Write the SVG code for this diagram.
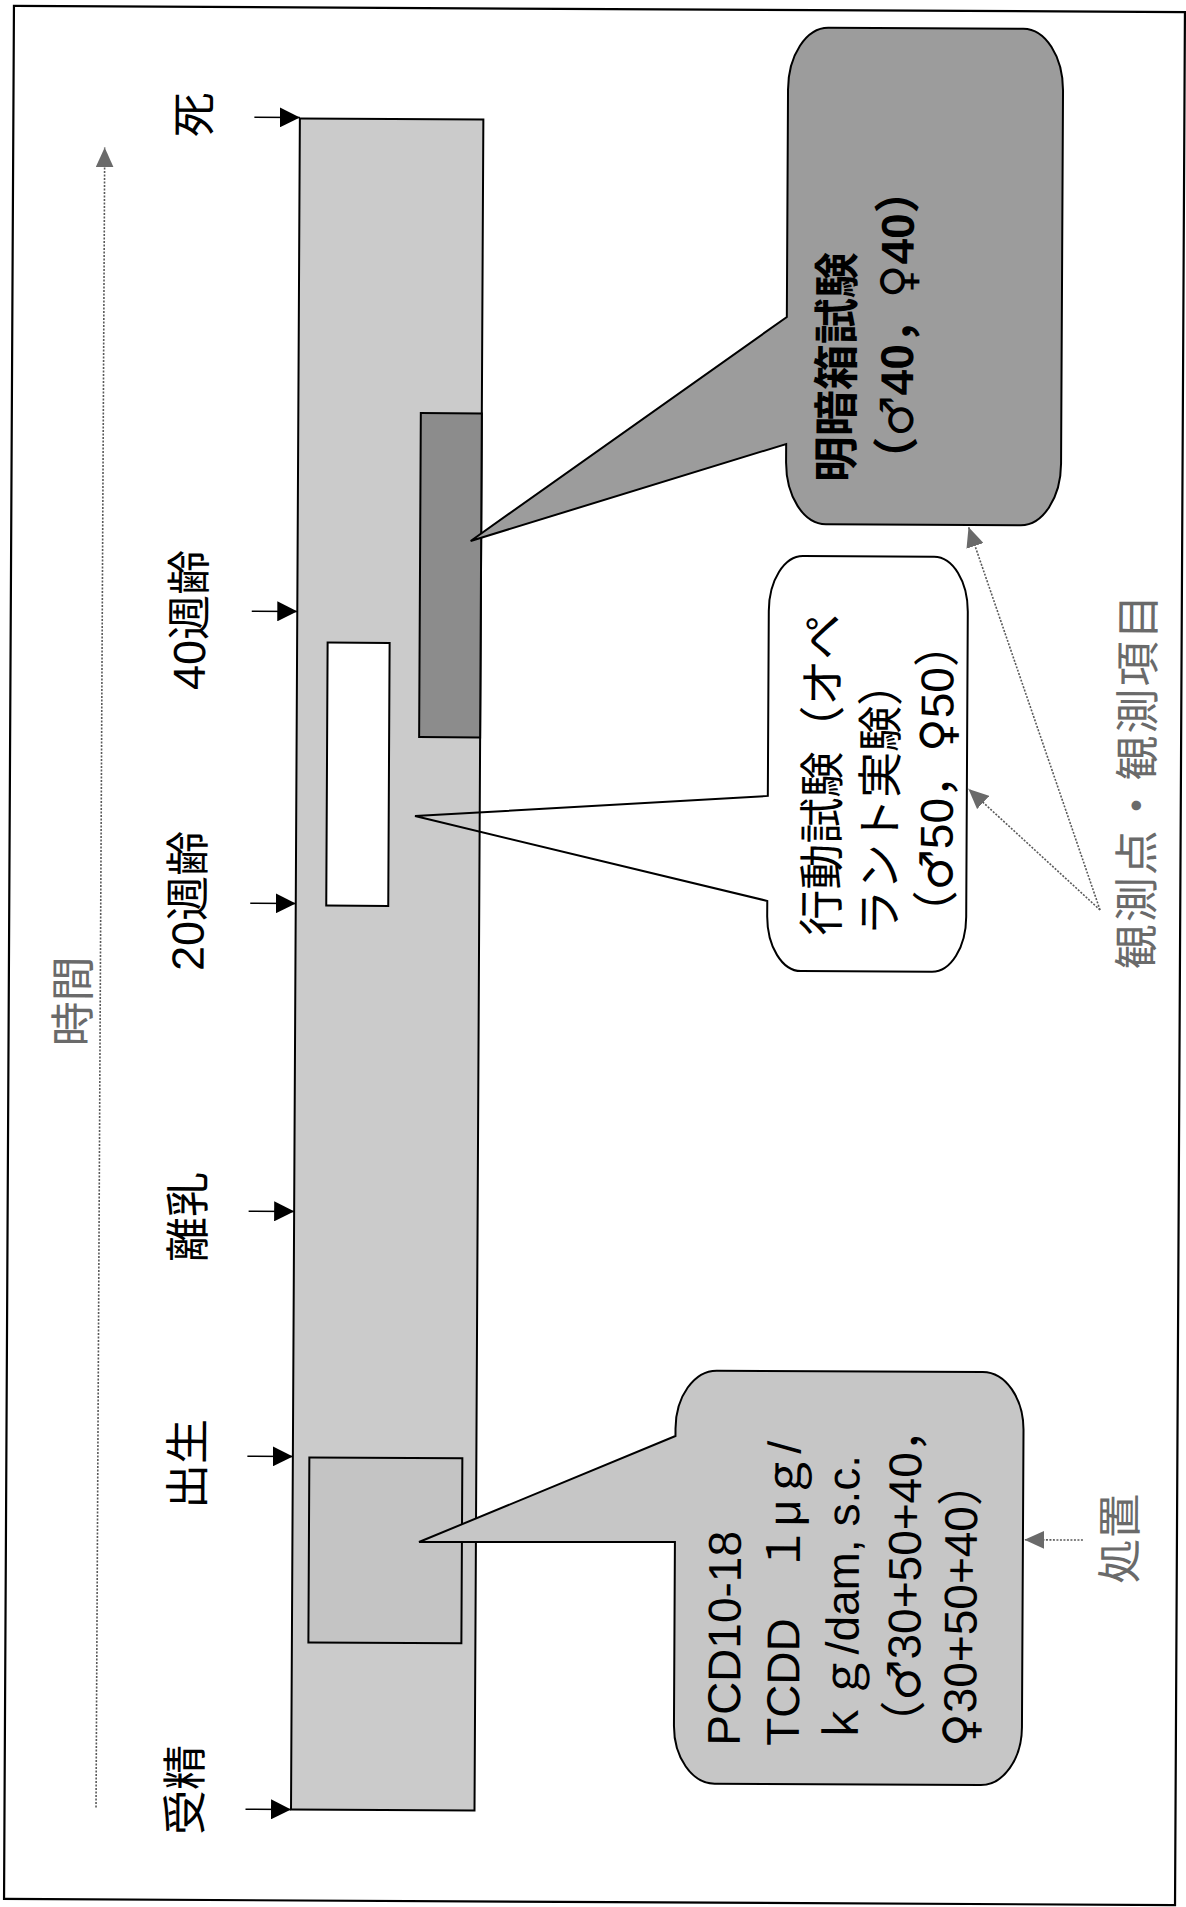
<svg xmlns="http://www.w3.org/2000/svg" width="1186" height="1907" viewBox="0 0 1186 1907">
<defs>
<style>
.lbl{font-family:"Liberation Sans","Noto Sans CJK JP",sans-serif;font-size:45px;fill:#000}
.gl{font-family:"Noto Sans CJK JP",sans-serif;font-size:45px;fill:#6a6a6a}
.ct{font-family:"Liberation Sans","Noto Sans CJK JP",sans-serif;font-size:46px;fill:#000}
.sx{font-family:"DejaVu Sans",sans-serif}
.bold{font-weight:bold}
.ax{stroke:#000;stroke-width:1.5;fill:none}
.dot{stroke:#5a5a5a;stroke-width:1.6;stroke-dasharray:2 1.5;fill:none}
.box{stroke:#000;stroke-width:2}
</style>
<marker id="ah" viewBox="0 0 20 20" refX="20" refY="10" markerWidth="20" markerHeight="20" markerUnits="userSpaceOnUse" orient="auto"><path d="M0,0 L20,10 L0,20 Z" fill="#000"/></marker>
<marker id="gh" viewBox="0 0 20 18" refX="20" refY="9" markerWidth="20" markerHeight="18" markerUnits="userSpaceOnUse" orient="auto"><path d="M0,0 L20,9 L0,18 Z" fill="#6a6a6a"/></marker>
</defs>
<rect width="1186" height="1907" fill="#fff"/>
<g transform="rotate(0.3 593 953)">
<rect id="frame" x="9" y="9" width="1171" height="1893" fill="none" stroke="#000" stroke-width="2.2"/>

<g id="timeline-bar">
<rect class="box" x="295.5" y="120" width="183.5" height="1691" fill="#cbcbcb"/>
</g>
<g id="treatment-period">
<rect class="box" x="312" y="1459" width="153" height="185" fill="#c4c4c4"/>
</g>
<g id="behavior-period">
<rect class="box" x="326" y="644" width="62" height="263" fill="#fff"/>
</g>
<g id="lightdark-period">
<rect class="box" x="418" y="414" width="61" height="324" fill="#8c8c8c"/>
</g>

<g id="labels">
<text class="lbl" x="190" y="117" transform="rotate(-90 190 117)" text-anchor="middle" dominant-baseline="central">死</text>
<text class="lbl" x="188" y="622" transform="rotate(-90 188 622)" text-anchor="middle" dominant-baseline="central">40週齢</text>
<text class="lbl" x="188" y="903" transform="rotate(-90 188 903)" text-anchor="middle" dominant-baseline="central">20週齢</text>
<text class="lbl" x="190" y="1219" transform="rotate(-90 190 1219)" text-anchor="middle" dominant-baseline="central">離乳</text>
<text class="lbl" x="191" y="1466" transform="rotate(-90 191 1466)" text-anchor="middle" dominant-baseline="central">出生</text>
<text class="lbl" x="190" y="1792" transform="rotate(-90 190 1792)" text-anchor="middle" dominant-baseline="central">受精</text>
</g>

<g id="time-label">
<text class="gl" x="70" y="1004" transform="rotate(-90 70 1004)" text-anchor="middle" dominant-baseline="central">時間</text>
</g>

<g id="connectors">
<line class="ax" x1="250" y1="119" x2="295.5" y2="119" marker-end="url(#ah)"/>
<line class="ax" x1="250" y1="613" x2="295.5" y2="613" marker-end="url(#ah)"/>
<line class="ax" x1="250" y1="905" x2="295.5" y2="905" marker-end="url(#ah)"/>
<line class="ax" x1="250" y1="1213" x2="295.5" y2="1213" marker-end="url(#ah)"/>
<line class="ax" x1="250" y1="1458" x2="295.5" y2="1458" marker-end="url(#ah)"/>
<line class="ax" x1="250" y1="1811" x2="295.5" y2="1811" marker-end="url(#ah)"/>
<line class="dot" x1="100.5" y1="1810" x2="100.5" y2="150" marker-end="url(#gh)"/>
<line class="dot" x1="1086" y1="1537.5" x2="1027.5" y2="1537.5" marker-end="url(#gh)"/>
<line class="dot" x1="1099.8" y1="907.3" x2="967.6" y2="787" marker-end="url(#gh)"/>
<line class="dot" x1="1099.8" y1="907.3" x2="966.3" y2="525" marker-end="url(#gh)"/>
</g>

<g id="callout-lightdark">
<path class="box" fill="#9c9c9c" d="M823.5 26.5 H1018.5 A40 62 0 0 1 1058.5 88.5 V461 A40 62 0 0 1 1018.5 523 H823.5 A40 62 0 0 1 783.5 461 V443 L468.5 541.6 L783.5 316 V88.5 A40 62 0 0 1 823.5 26.5 Z"/>
<text class="ct bold" x="834" y="481" transform="rotate(-90 834 481)" dominant-baseline="central">明暗箱試験</text>
<text class="ct bold" x="894" y="481" transform="rotate(-90 894 481)" dominant-baseline="central">（<tspan class="sx">♂</tspan>40，<tspan class="sx">♀</tspan>40）</text>
</g>

<g id="callout-behavior">
<path class="box" fill="none" d="M801 555 H932 A34 55 0 0 1 966 610 V915 A34 55 0 0 1 932 970 H801 A34 55 0 0 1 767 915 V900 L414.3 817 L767 795 V610 A34 55 0 0 1 801 555 Z"/>
<text class="ct" x="822" y="934.5" transform="rotate(-90 822 934.5)" dominant-baseline="central">行動試験（オペ</text>
<text class="ct" x="880" y="934.5" transform="rotate(-90 880 934.5)" dominant-baseline="central">ラント実験）</text>
<text class="ct" x="936" y="934.5" transform="rotate(-90 936 934.5)" dominant-baseline="central">（<tspan class="sx">♂</tspan>50，<tspan class="sx">♀</tspan>50）</text>
</g>

<g id="callout-treatment">
<path class="box" fill="#c6c6c6" d="M719 1370 H985 A41 58 0 0 1 1026 1428 V1725 A41 58 0 0 1 985 1783 H719 A41 58 0 0 1 678 1725 V1541.6 L422.1 1542.9 L678 1435.6 V1428 A41 58 0 0 1 719 1370 Z"/>
<text class="ct" x="728" y="1745" transform="rotate(-90 728 1745)" dominant-baseline="central">PCD10-18</text>
<text class="ct" x="787" y="1745" transform="rotate(-90 787 1745)" dominant-baseline="central">TCDD　１μｇ/</text>
<text class="ct" x="846" y="1745" transform="rotate(-90 846 1745)" dominant-baseline="central">ｋｇ/dam, s.c.</text>
<text class="ct" x="908" y="1745" transform="rotate(-90 908 1745)" dominant-baseline="central">（<tspan class="sx">♂</tspan>30+50+40，</text>
<text class="ct" x="964" y="1745" transform="rotate(-90 964 1745)" dominant-baseline="central"><tspan class="sx">♀</tspan>30+50+40）</text>
</g>

<g id="treatment-label">
<text class="gl" x="1119.5" y="1536" transform="rotate(-90 1119.5 1536)" text-anchor="middle" dominant-baseline="central">処置</text>
</g>

<g id="observation-label">
<text class="gl" x="1133" y="779" transform="rotate(-90 1133 779)" text-anchor="middle" dominant-baseline="central" textLength="375" lengthAdjust="spacing">観測点・観測項目</text>
</g>
</g>
</svg>
